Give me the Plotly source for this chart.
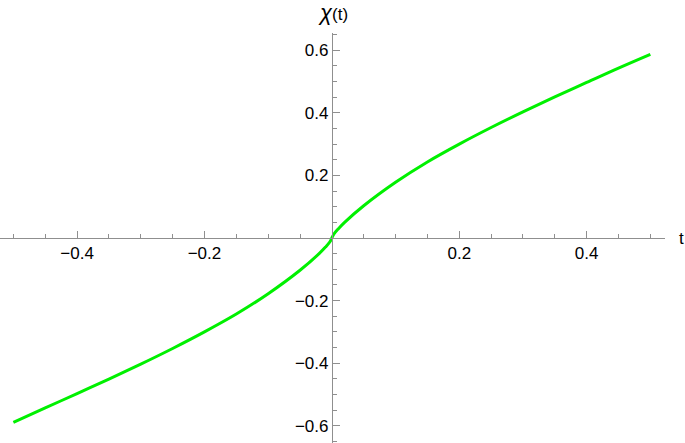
import plotly.graph_objects as go

# curve values
t_vals = [-0.5, -0.45, -0.4, -0.35, -0.3, -0.25, -0.2, -0.15, -0.1, -0.05, -0.02, -0.01, -0.003, 0.0,
          0.003, 0.01, 0.02, 0.05, 0.1, 0.15, 0.2, 0.25, 0.3, 0.35, 0.4, 0.45, 0.5]
chi_vals = [-0.589, -0.543, -0.497, -0.451, -0.403, -0.353, -0.300, -0.243, -0.178, -0.103, -0.050, -0.029, -0.012, 0.0,
            0.012, 0.029, 0.050, 0.103, 0.178, 0.243, 0.300, 0.353, 0.403, 0.451, 0.497, 0.543, 0.587]

x_major = [-0.4, -0.2, 0.2, 0.4]
x_minor = [-0.5, -0.45, -0.35, -0.3, -0.25, -0.15, -0.1, -0.05, 0.05, 0.1, 0.15, 0.25, 0.3, 0.35, 0.45, 0.5]
y_major = [-0.6, -0.4, -0.2, 0.2, 0.4, 0.6]
y_minor = [-0.65, -0.55, -0.5, -0.45, -0.35, -0.3, -0.25, -0.15, -0.1, -0.05,
           0.05, 0.1, 0.15, 0.25, 0.3, 0.35, 0.45, 0.5, 0.55, 0.65]

x_range = [-0.521, 0.523]
y_range = [-0.655, 0.655]

axis_col = '#8f8f8f'
font_fam = 'Liberation Sans, Arial, sans-serif'

fig = go.Figure()
fig.add_trace(go.Scatter(x=t_vals, y=chi_vals, mode='lines', line=dict(color='#00f000', width=3, shape='spline'),
                         showlegend=False, hoverinfo='skip'))

fig.update_layout(
    width=685, height=443,
    margin=dict(l=0, r=20, t=33, b=0),
    paper_bgcolor='white', plot_bgcolor='white',
    font=dict(family=font_fam, size=17, color='black'),
    xaxis=dict(range=x_range, anchor='free', position=(0 - y_range[0]) / (y_range[1] - y_range[0]),
               showgrid=False, zeroline=False, showline=True, linecolor=axis_col, linewidth=1,
               tickmode='array', tickvals=x_major, ticktext=['\u22120.4', '\u22120.2', '0.2', '0.4'],
               ticks='inside', ticklen=7, tickcolor=axis_col, tickwidth=1,
               minor=dict(tickmode='array', tickvals=x_minor, ticks='inside', ticklen=4, tickcolor=axis_col, showgrid=False),
               automargin=False, fixedrange=True),
    yaxis=dict(range=y_range, anchor='free', position=(0 - x_range[0]) / (x_range[1] - x_range[0]),
               showgrid=False, zeroline=False, showline=True, linecolor=axis_col, linewidth=1,
               tickmode='array', tickvals=y_major,
               ticktext=['\u22120.6', '\u22120.4', '\u22120.2', '0.2', '0.4', '0.6'],
               ticks='inside', ticklen=7, tickcolor=axis_col, tickwidth=1,
               minor=dict(tickmode='array', tickvals=y_minor, ticks='inside', ticklen=4, tickcolor=axis_col, showgrid=False),
               automargin=False, fixedrange=True),
)

# axis labels
fig.add_annotation(x=0, y=1, xref='x', yref='paper', yshift=6, xshift=1,
                   text='<span style="font-size:22px"><i>\u03c7</i></span>(t)', showarrow=False,
                   xanchor='center', yanchor='bottom', font=dict(size=17, family=font_fam))
fig.add_annotation(x=1, y=0, xref='paper', yref='y', xshift=12, text='t', showarrow=False,
                   xanchor='left', yanchor='middle', font=dict(size=17, family=font_fam))

# the page body has a default 8px margin; drop it so the figure sits at the window corner
fig.write_html("out.html", config={'displayModeBar': False},
               post_script="document.body.style.margin='0';")
